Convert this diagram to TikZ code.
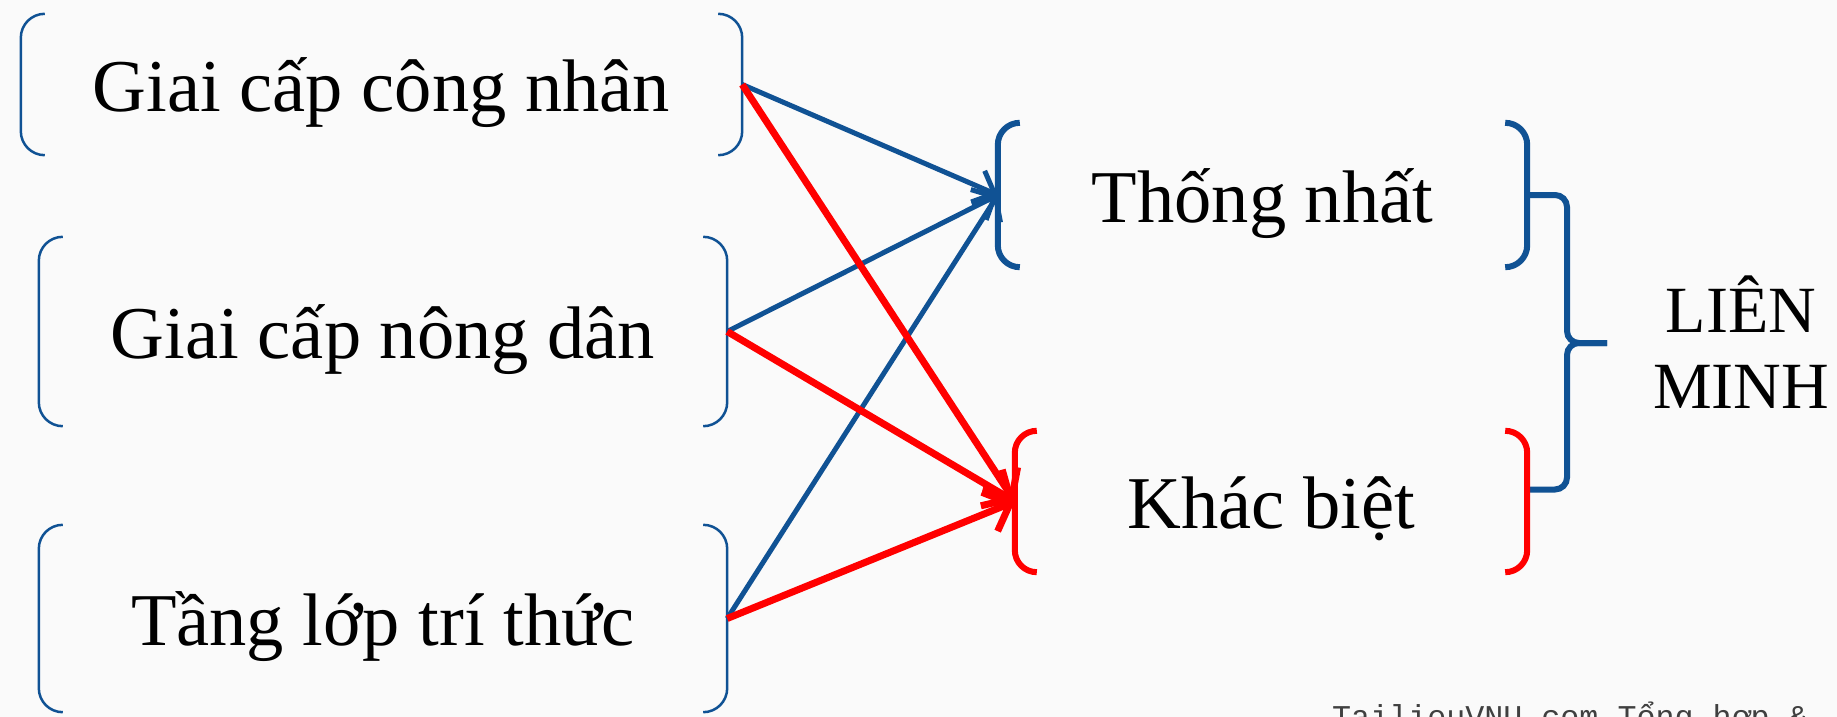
\documentclass[tikz,border=0pt]{standalone}
\usepackage{fontspec}
\setmainfont{Liberation Serif}
\newfontfamily\wmfont{Liberation Mono}
\usetikzlibrary{arrows.meta}
\definecolor{pblue}{RGB}{16,82,148}
\definecolor{pred}{RGB}{255,0,0}
\begin{document}
\begin{tikzpicture}[x=1pt,y=-1pt,
  box/.style={inner sep=0pt, text height=54pt, text depth=0pt, font=\fontsize{74.5}{80}\selectfont},
  thinbracket/.style={draw=pblue, line width=2.5pt, rounded corners=24pt},
  thickbracket/.style={line width=6pt, rounded corners=22pt},
  bluearrow/.style={draw=pblue, line width=5pt, -{Straight Barb[length=18pt,width=34pt]}},
  redarrow/.style={draw=pred, line width=7pt, -{Straight Barb[length=22pt,width=42pt]}},
]
\fill[white!98!black] (0,0) rectangle (1837,717);
\useasboundingbox (0,0) rectangle (1837,717);
\clip (0,0) rectangle (1837,717);

\node[box, minimum width=721pt, minimum height=141pt] (n1) at (381.5,84.5) {Giai cấp công nhân};
\node[box, minimum width=688pt, minimum height=189pt] (n2) at (383,331.5) {Giai cấp nông dân};
\node[box, minimum width=688pt, minimum height=187pt] (n3) at (383,618.5) {Tầng lớp trí thức};
\node[box, minimum width=529pt, minimum height=144pt] (tn) at (1262.5,195) {Thống nhất};
\node[box, minimum width=512pt, minimum height=141pt] (kb) at (1271,501.5) {Khác biệt};

\foreach \n in {n1,n2,n3}{
  \draw[thinbracket] ([xshift=24pt]\n.north west) -- (\n.north west) -- (\n.south west) -- ([xshift=24pt]\n.south west);
  \draw[thinbracket] ([xshift=-24pt]\n.north east) -- (\n.north east) -- (\n.south east) -- ([xshift=-24pt]\n.south east);
}

% brace
\coordinate (tip) at (1607,343);
\draw[pblue, line width=6pt, rounded corners=12pt] (tn.east) -- (1567,195) -- (1567,343) -- (tip);
\draw[pblue, line width=6pt, rounded corners=12pt] ([yshift=12pt]kb.east) -- (1567,489.5) -- (1567,343) -- (tip);

\draw[thickbracket, draw=pblue] ([xshift=22pt]tn.north west) -- (tn.north west) -- (tn.south west) -- ([xshift=22pt]tn.south west);
\draw[thickbracket, draw=pblue] ([xshift=-22pt]tn.north east) -- (tn.north east) -- (tn.south east) -- ([xshift=-22pt]tn.south east);
\draw[thickbracket, draw=pred] ([xshift=22pt]kb.north west) -- (kb.north west) -- (kb.south west) -- ([xshift=22pt]kb.south west);
\draw[thickbracket, draw=pred] ([xshift=-22pt]kb.north east) -- (kb.north east) -- (kb.south east) -- ([xshift=-22pt]kb.south east);

\draw[bluearrow] (n1.east) -- (tn.west);
\draw[bluearrow] (n2.east) -- (tn.west);
\draw[bluearrow] (n3.east) -- (tn.west);
\draw[redarrow] (n1.east) -- (kb.west);
\draw[redarrow] (n2.east) -- (kb.west);
\draw[redarrow] (n3.east) -- (kb.west);

\node[font=\fontsize{66}{76}\selectfont, align=center, anchor=base, inner sep=0pt] (lm) at (1741,408) {LIÊN\\MINH};

\node[font=\wmfont\fontsize{31.7}{34}\selectfont, text=black!75, anchor=base west, inner sep=0pt] (wm) at (1332,727) {TailieuVNU.com Tổng hợp \&};
\end{tikzpicture}
\end{document}
